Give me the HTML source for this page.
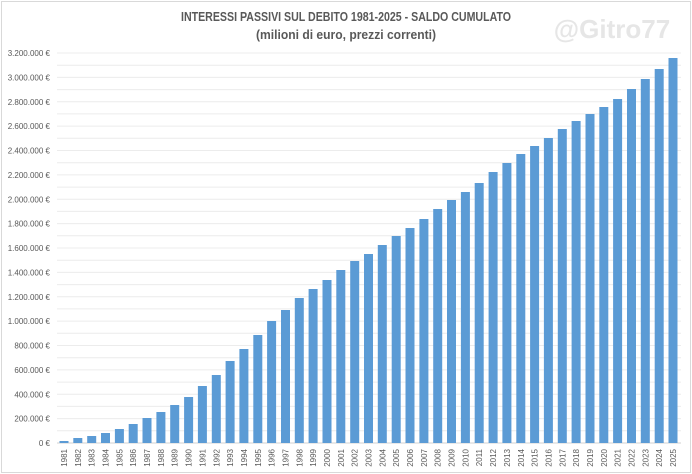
<!DOCTYPE html><html><head><style>
body{margin:0;background:#fff;font-family:"Liberation Sans",Arial,sans-serif}
#c{position:relative;width:692px;height:474px;overflow:hidden}
</style></head><body><div id="c">
<svg width="692" height="474" xmlns="http://www.w3.org/2000/svg" id="s">
<rect x="1.5" y="1.5" width="689" height="471" fill="#fff" stroke="#d9d9d9"/>
<text x="346" y="21" text-anchor="middle" font-size="12.5" font-weight="bold" fill="#595959" font-family="Liberation Sans Narrow, Liberation Sans, sans-serif" textLength="330" lengthAdjust="spacingAndGlyphs">INTERESSI PASSIVI SUL DEBITO 1981-2025 - SALDO CUMULATO</text>
<text x="346" y="39" text-anchor="middle" font-size="12.5" font-weight="bold" fill="#595959" textLength="180" lengthAdjust="spacingAndGlyphs">(milioni di euro, prezzi correnti)</text>
<text x="612" y="38" text-anchor="middle" font-size="26" font-weight="bold" fill="#e6e6e6">@Gitro77</text>
<g id="g"></g>
</svg></div>
<script>
var g=document.getElementById('g'),h='';
var y0=443,y1=53,ppk=(y0-y1)/32;
for(var i=0;i<=32;i++){var y=y0-i*ppk;h+='<line x1="57" x2="681" y1="'+y.toFixed(1)+'" y2="'+y.toFixed(1)+'" stroke="'+(i==0?'#d0d0d0':'#ececec')+'" stroke-width="1"/>';
if(i%2==0){var v=i*100000;var s=v==0?'0':v.toString().replace(/\B(?=(\d{3})+(?!\d))/g,'.');h+='<text x="50" y="'+(y+3).toFixed(1)+'" text-anchor="end" font-size="8" fill="#595959">'+s+' €</text>';}}
var t=[441,438,436,433,429,424,418,412,405,397,386,375,361,349,335,321,310,298,289,280,270,261,254,245,236,228,219,209,200,192,183,172,163,154,146,138,129,121,114,107,99,89,79,69,58];
var sp=(673-64)/44;
for(var j=0;j<45;j++){var cx=64+j*sp;h+='<rect x="'+(cx-4.5).toFixed(1)+'" y="'+t[j]+'" width="9" height="'+(y0-t[j])+'" fill="#5b9bd5"/>';
h+='<text transform="translate('+(cx+3).toFixed(1)+',449) rotate(-90)" text-anchor="end" font-size="8" fill="#595959">'+(1981+j)+'</text>';}
g.innerHTML=h;
</script></body></html>
